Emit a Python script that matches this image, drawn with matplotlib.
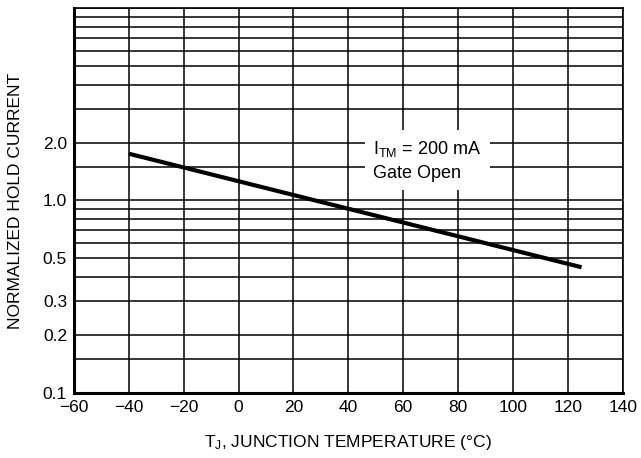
import matplotlib
matplotlib.use("Agg")
import matplotlib.pyplot as plt

plt.rcParams['font.family'] = ['Liberation Sans', 'DejaVu Sans']
plt.rcParams['mathtext.default'] = 'regular'

# curve: normalized hold current vs junction temperature
temp = [-40, 125]
hold = [1.75, 0.45]

x_ticks = [-60, -40, -20, 0, 20, 40, 60, 80, 100, 120, 140]
y_grid = [0.1, 0.15, 0.2, 0.3, 0.4, 0.5, 0.6, 0.7, 0.8, 0.9, 1.0,
          1.5, 2.0, 3.0, 4.0, 5.0, 6.0, 7.0, 8.0, 9.0, 10.0]
y_labels = {0.1: "0.1", 0.2: "0.2", 0.3: "0.3", 0.5: "0.5", 1.0: "1.0", 2.0: "2.0"}

fig = plt.figure(figsize=(6.41, 4.58), dpi=100)
ax = fig.add_axes([0.1154, 0.142, 0.856, 0.8405])

ax.set_yscale("log")
ax.set_xlim(-60, 140)
ax.set_ylim(0.1, 10)

ax.set_xticks(x_ticks)
ax.set_xticklabels(["\u221260", "\u221240", "\u221220", "0", "20", "40", "60",
                    "80", "100", "120", "140"])
ax.set_yticks(y_grid)
ax.set_yticklabels([y_labels.get(v, "") for v in y_grid])
ax.minorticks_off()
ax.tick_params(length=0, labelsize=12.5, pad=5)

ax.grid(True, color="black", linewidth=1.1)
ax.set_axisbelow(True)
for side in ["left", "bottom"]:
    ax.spines[side].set_linewidth(2.2)
for side in ["top", "right"]:
    ax.spines[side].set_linewidth(1.2)

ax.plot(temp, hold, color="black", linewidth=3, solid_capstyle="butt", zorder=3)

ax.text(49, 2.08, "I$_{TM}$ = 200 mA\nGate Open", fontsize=13, va="top", ha="left",
        linespacing=1.45,
        bbox=dict(facecolor="white", edgecolor="none", pad=6), zorder=4)

ax.set_xlabel("T$_J$, JUNCTION TEMPERATURE (°C)", fontsize=12.5, labelpad=13)
ax.set_ylabel("NORMALIZED HOLD CURRENT", fontsize=12.5, labelpad=14)

fig.savefig("out.png", dpi=100)
